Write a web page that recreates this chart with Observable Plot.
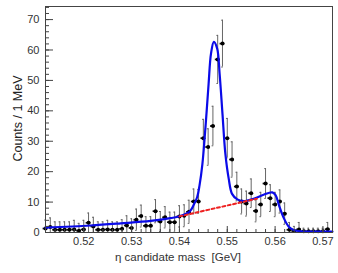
<!DOCTYPE html>
<html><head><meta charset="utf-8">
<script src="https://cdn.jsdelivr.net/npm/d3@7"></script>
<script src="https://cdn.jsdelivr.net/npm/@observablehq/plot@0.6"></script>
<style>
html,body{margin:0;padding:0;background:#fff;}
</style>
</head><body><div id="chart"></div>
<script>
const massBins = [0.512,0.513,0.514,0.515,0.516,0.517,0.518,0.519,0.520,0.521,
  0.522,0.523,0.524,0.525,0.526,0.527,0.528,0.529,0.530,0.531,
  0.532,0.533,0.534,0.535,0.536,0.537,0.538,0.539,0.540,0.541,
  0.542,0.543,0.544,0.545,0.546,0.547,0.548,0.549,0.550,0.551,
  0.552,0.553,0.554,0.555,0.556,0.557,0.558,0.559,0.560,0.561,
  0.562,0.563,0.564,0.565,0.566,0.567,0.568,0.569,0.570,0.571];
const counts = [1.3,1.8,0.9,0.9,0.9,0.9,1.0,0.6,1.0,3.2,
  2.0,0.9,0.9,1.0,0.9,0.9,1.2,2.3,1.5,4.2,
  5.4,2.2,2.2,7.0,3.6,5.0,3.4,3.4,5.3,5.5,
  6.8,10.2,10.2,31.0,28.1,35.0,56.9,62.1,31.0,24.0,
  15.1,10.2,9.5,12.9,7.1,9.2,16.1,11.3,9.2,10.2,
  6.2,0.9,0.5,1.0,0.4,0.4,0.4,0.4,0.4,1.1];
const errors = [2.8,3.0,2.6,2.6,2.6,2.6,3.0,2.4,3.0,3.2,
  3.0,2.6,2.6,3.0,2.6,2.6,3.0,3.2,3.0,3.5,
  3.6,3.0,3.0,3.8,3.3,3.5,3.3,3.3,3.5,3.6,
  3.8,4.1,3.9,6.2,6.0,6.5,7.9,7.7,6.5,5.8,
  4.7,4.1,4.1,4.7,3.6,4.0,4.9,4.4,4.0,3.8,
  3.5,2.4,1.5,2.3,1.0,1.0,1.0,1.0,1.0,2.2];
const fitMass = [0.5120,0.5214,0.5277,0.5340,0.5381,0.5402,0.5417,0.5423,0.5429,0.5437,
  0.5442,0.5448,0.5455,0.5461,0.5466,0.5472,0.5479,0.5484,0.5490,0.5496,
  0.5503,0.5510,0.5521,0.5535,0.5555,0.5576,0.5594,0.5601,0.5608,0.5618,
  0.5629,0.5639,0.5653,0.5720];
const fitCounts = [1.6,2.3,3.0,3.8,4.7,5.4,6.4,7.2,8.8,11.6,
  15.5,22.5,35.8,48.9,58.8,62.7,60.4,52.2,39.0,25.9,
  17.7,12.7,10.9,10.3,11.1,12.4,13.2,12.3,9.0,4.8,
  1.8,0.8,0.4,0.3];
const bkgMass = [0.5400,0.5562];
const bkgCounts = [5.3,11.1];
const xTicks = [0.52,0.53,0.54,0.55,0.56,0.57];
const xTickLabels = ["0.52","0.53","0.54","0.55","0.56","0.57"];
const yTicks = [0,10,20,30,40,50,60,70];
const xTitle = "η candidate mass  [GeV]";
const yTitle = "Counts / 1 MeV";
const binWidth = 0.001;

const pts = massBins.map((m,i)=>({m, c: counts[i], e: errors[i]}));
const fit = fitMass.map((m,i)=>({m, c: fitCounts[i]}));
const bkg = bkgMass.map((m,i)=>({m, c: bkgCounts[i]}));
const xMinor = d3.range(0, 31).map(i => 0.512 + i*0.002);
const yMinor = d3.range(0, 38).map(i => i*2);
const axisColor = "#444";

const chart = Plot.plot({
  width: 338, height: 273,
  marginLeft: 45, marginRight: 6, marginTop: 6, marginBottom: 41,
  style: {fontFamily: "'Liberation Sans', Arial, sans-serif", fontSize: "11px", color: "#333", background: "#fff"},
  x: {domain: [0.512, 0.572]},
  y: {domain: [0, 74.3]},
  marks: [
    Plot.ruleX(pts, {x: "m", y1: d => Math.max(0, d.c - d.e), y2: d => d.c + d.e, stroke: "#666", strokeWidth: 1}),
    Plot.ruleY(pts, {y: d => d.c + d.e, x1: d => d.m - 0.00017, x2: d => d.m + 0.00017, stroke: "#666", strokeWidth: 1}),
    Plot.ruleY(pts.filter(d => d.c - d.e > 0), {y: d => d.c - d.e, x1: d => d.m - 0.00017, x2: d => d.m + 0.00017, stroke: "#666", strokeWidth: 1}),
    Plot.ruleY(pts, {y: "c", x1: d => d.m - binWidth/2, x2: d => d.m + binWidth/2, stroke: "#111", strokeWidth: 1.7}),
    Plot.dot(pts, {x: "m", y: "c", r: 2, fill: "#000", stroke: "none"}),
    Plot.line(fit, {x: "m", y: "c", stroke: "#0a0ae8", strokeWidth: 2.2, curve: "catmull-rom"}),
    Plot.line(bkg, {x: "m", y: "c", stroke: "#ee2222", strokeWidth: 2, strokeDasharray: "3,2.5"}),
    Plot.axisY(yMinor, {tickSize: -4, fill: "none", stroke: axisColor, label: null}),
    Plot.axisY(yTicks, {tickSize: -8, fill: "none", stroke: axisColor, label: null}),
    Plot.axisY(yTicks, {tickSize: 0, tickPadding: 6, label: null, fill: "#333"}),
    Plot.axisX(xMinor, {tickSize: -3, fill: "none", stroke: axisColor, label: null}),
    Plot.axisX(xTicks, {tickSize: -6, fill: "none", stroke: axisColor, label: null}),
    Plot.axisX(xTicks, {tickSize: 0, tickPadding: 5, label: null, fill: "#333", tickFormat: (d,i) => xTickLabels[i]}),
    Plot.frame({stroke: axisColor}),
    Plot.text([xTitle], {frameAnchor: "bottom", dx: -11, dy: 28, text: d => d, fontSize: 11.5, fontFamily: "'Liberation Sans Narrow', 'Liberation Sans', sans-serif", fill: "#333"}),
    Plot.text([yTitle], {frameAnchor: "left", dx: -28, dy: -1, rotate: -90, textAnchor: "middle", text: d => d, fontSize: 12.5, fill: "#222"})
  ]
});
document.getElementById("chart").appendChild(chart);
</script>
</body></html>
